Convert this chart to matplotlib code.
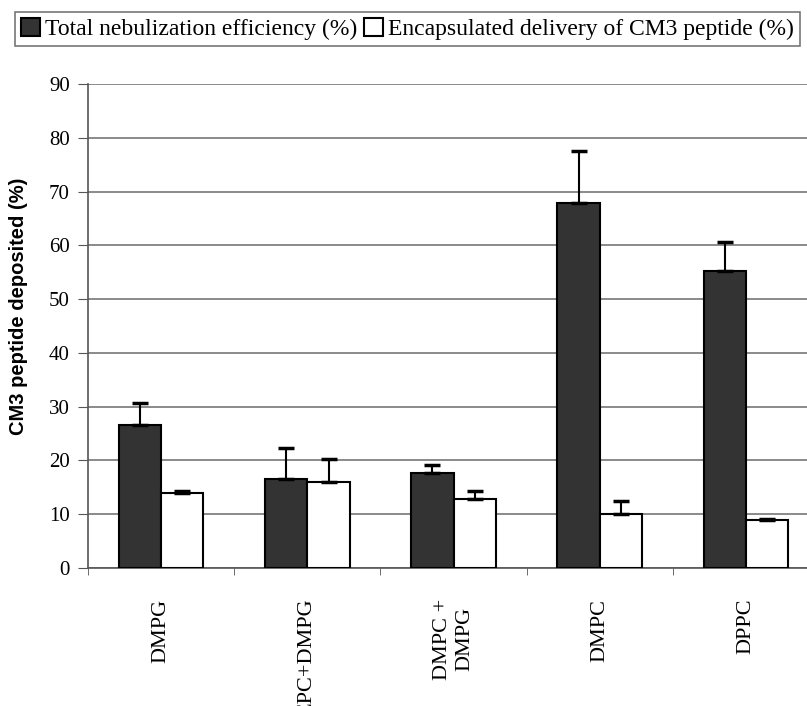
import numpy as np
import matplotlib.pyplot as plt
from matplotlib.patches import Patch
from matplotlib.ticker import FixedLocator

categories = ["DMPG", "EPC+DMPG", "DMPC +\nDMPG", "DMPC", "DPPC"]
total_eff = [26.5, 16.6, 17.7, 67.8, 55.3]
total_err = [4.1, 5.7, 1.4, 9.7, 5.4]
encaps = [13.9, 16.0, 12.8, 10.0, 9.0]
encaps_err = [0.4, 4.3, 1.6, 2.5, 0.1]

serif = "Liberation Serif"
dark = "#333333"

fig = plt.figure(figsize=(8.07, 7.06), dpi=100)
ax = fig.add_axes([0.109, 0.1955, 0.906, 0.6855])

x = np.arange(len(categories))
w = 0.29
ekw = dict(ecolor="black", elinewidth=1.5, capsize=6, capthick=2.5)
# only the upper half of each error bar is shown
ax.bar(x - w / 2, total_eff, w, color=dark, edgecolor="black", linewidth=1.5,
       yerr=[np.zeros(len(x)), total_err], error_kw=ekw, zorder=3)
ax.bar(x + w / 2, encaps, w, color="white", edgecolor="black", linewidth=1.5,
       yerr=[np.zeros(len(x)), encaps_err], error_kw=ekw, zorder=3)

ax.set_xlim(-0.5, len(categories) - 0.5)
ax.set_ylim(0, 90)
ax.set_yticks(range(0, 91, 10))
ax.yaxis.grid(True, color="#777777", linewidth=1.2, zorder=0)
ax.set_axisbelow(True)

ax.set_xticks(x)
ax.set_xticklabels(categories, rotation=90, fontfamily=serif, fontsize=16,
                   va="top", ha="center", linespacing=1.25)
ax.tick_params(axis="x", which="major", length=0, pad=22)
ax.xaxis.set_minor_locator(FixedLocator(np.arange(-0.5, len(categories), 1.0)))
ax.tick_params(axis="x", which="minor", length=5, color="#555555")
ax.tick_params(axis="y", length=7, pad=6, labelsize=15, color="#555555")
for lab in ax.get_yticklabels():
    lab.set_fontfamily(serif)

for s in ["top", "right"]:
    ax.spines[s].set_visible(False)
ax.spines["left"].set_color("#555555")
ax.spines["bottom"].set_color("#555555")
ax.spines["left"].set_linewidth(1.2)
ax.spines["bottom"].set_linewidth(1.2)

ax.set_ylabel("CM3 peptide deposited (%)", fontfamily="Liberation Sans",
              fontweight="bold", fontsize=14.5)
ax.yaxis.set_label_coords(-0.082, 0.54)

handles = [Patch(facecolor=dark, edgecolor="black", linewidth=1.5),
           Patch(facecolor="white", edgecolor="black", linewidth=1.5)]
leg = fig.legend(handles, ["Total nebulization efficiency (%)",
                           "Encapsulated delivery of CM3 peptide (%)"],
                 loc="upper center", bbox_to_anchor=(0.505, 0.99), ncol=2,
                 prop={"family": serif, "size": 17}, frameon=True, fancybox=False,
                 handlelength=0.8, handleheight=0.8, handletextpad=0.2,
                 columnspacing=0.3, borderpad=0.25, borderaxespad=0.2)
leg.get_frame().set_edgecolor("#555555")
leg.get_frame().set_linewidth(1.2)

fig.savefig("out.png", dpi=100)
